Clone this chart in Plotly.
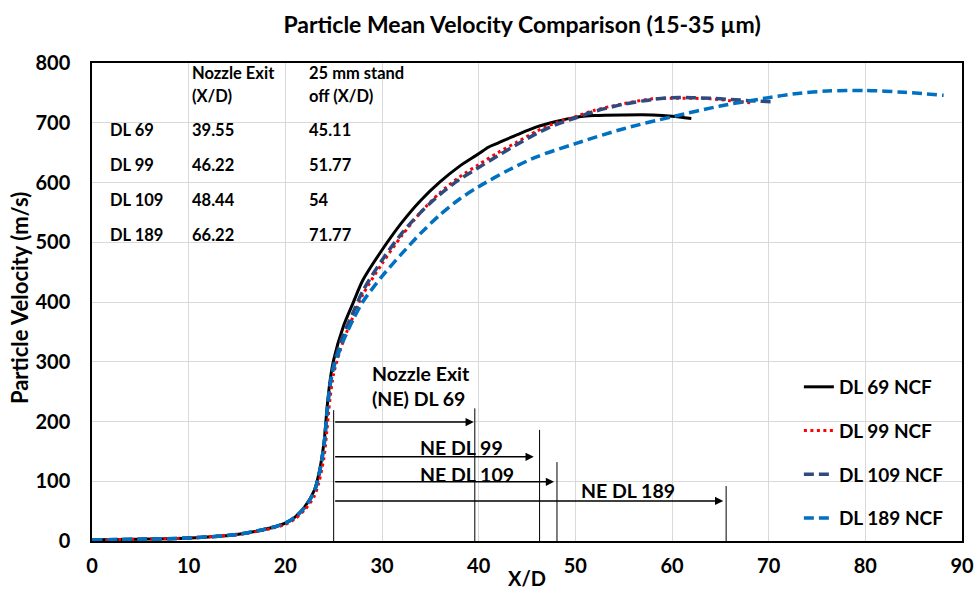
import plotly.graph_objects as go

FONT = "Lato"

# ---- data ----
x_dl69 = [0, 5, 10, 15, 18, 20, 21, 22, 23, 23.5, 24, 24.3, 24.6, 25, 26, 27, 28, 30, 32, 34, 36, 38, 40, 41, 42, 44, 46, 48, 50, 52, 55, 58, 60, 62]
v_dl69 = [2, 3, 5, 11, 20, 30, 40, 57, 85, 115, 165, 220, 265, 303, 359, 398, 436, 487, 532, 570, 601, 627, 648, 659, 666, 680, 693, 702, 709, 712, 713, 713, 711, 707]

x_dl99 = [0, 5, 10, 15, 18, 20, 21, 22, 23, 23.5, 24, 24.3, 24.6, 25, 26, 27, 28, 30, 32, 34, 36, 38, 40, 42, 44, 46, 48, 50, 52, 55, 58, 60, 62, 64, 66, 68.4]
v_dl99 = [2, 3, 5, 11, 19, 28, 37, 52, 75, 100, 140, 185, 235, 280, 335, 375, 412, 464, 510, 550, 583, 609, 630, 650, 668, 686, 700, 710, 721, 732, 740, 741, 741, 740, 737, 733]

x_dl109 = [0, 5, 10, 15, 18, 20, 21, 22, 23, 23.5, 24, 24.3, 24.6, 25, 26, 27, 28, 30, 32, 34, 36, 38, 40, 42, 44, 46, 48, 50, 52, 55, 58, 60, 62, 64, 66, 68, 70.7]
v_dl109 = [2, 3, 5, 11, 20, 30, 40, 56, 83, 112, 160, 212, 258, 295, 345, 382, 418, 470, 514, 550, 580, 605, 625, 645, 664, 682, 697, 708, 719, 731, 739, 742, 742, 741, 739, 737, 735]

x_dl189 = [0, 5, 10, 15, 18, 20, 21, 22, 23, 23.5, 24, 24.3, 24.6, 25, 26, 27, 28, 30, 32, 34, 36, 38, 40, 43, 46, 50, 55, 60, 65, 70, 73, 76, 80, 84, 88.1]
v_dl189 = [2, 3, 5, 11, 20, 30, 40, 56, 83, 112, 160, 212, 258, 290, 335, 370, 400, 443, 480, 515, 546, 572, 593, 620, 643, 665, 690, 710, 728, 742, 749, 753, 754, 751, 746]

series_names = ["DL 69 NCF", "DL 99 NCF", "DL 109 NCF", "DL 189 NCF"]

# table in the chart
table_header_ne = ["Nozzle Exit", "(X/D)"]
table_header_so = ["25 mm stand", "off (X/D)"]
table_rows = ["DL 69", "DL 99", "DL 109", "DL 189"]
table_ne = ["39.55", "46.22", "48.44", "66.22"]
table_so = ["45.11", "51.77", "54", "71.77"]

# nozzle-exit markers
ne_start = 25
ne_start_top = 219
ne_line_x = [39.6, 46.3, 48.1, 65.6]
ne_line_top = [222, 186, 132, 92]
ne_arrow_end = [39.5, 45.7, 47.8, 65.3]
ne_arrow_y = [199, 141, 99, 67]
ne_labels = ["Nozzle Exit<br>(NE) DL 69", "NE DL 99", "NE DL 109", "NE DL 189"]
ne_label_x = [28.8, 33.7, 33.7, 50.4]
ne_label_y = [259, 157, 112, 85]

x_ticks = [0, 10, 20, 30, 40, 50, 60, 70, 80, 90]
y_ticks = [0, 100, 200, 300, 400, 500, 600, 700, 800]

fig = go.Figure()

styles = [
    dict(color="#000000", width=3, dash="solid"),
    dict(color="#FF0000", width=3, dash="3px,3.5px"),
    dict(color="#2E4A7E", width=3.5, dash="10px,5px"),
    dict(color="#0070C0", width=3.5, dash="10px,5px"),
]
for i, (xs, vs) in enumerate([(x_dl69, v_dl69), (x_dl99, v_dl99), (x_dl109, v_dl109), (x_dl189, v_dl189)]):
    fig.add_trace(go.Scatter(x=xs, y=vs, mode="lines", name=series_names[i],
                             line=dict(shape="spline", smoothing=0.8, **styles[i]),
                             legendgroup=f"g{i}"))

annots = []
shapes = []
bold = dict(family=FONT, size=16.5, color="#000000", weight="bold")

# table text
for line_txt_ne, line_txt_so, yy in zip(table_header_ne, table_header_so, [783, 744]):
    annots.append(dict(x=10.14, y=yy, text=line_txt_ne, xanchor="left", yanchor="middle", showarrow=False, font=bold))
    annots.append(dict(x=22.26, y=yy, text=line_txt_so, xanchor="left", yanchor="middle", showarrow=False, font=bold))
row_y = [688, 629, 570, 512]
for r, ne, so, yy in zip(table_rows, table_ne, table_so, row_y):
    annots.append(dict(x=1.66, y=yy, text=r, xanchor="left", yanchor="middle", showarrow=False, font=bold))
    annots.append(dict(x=10.14, y=yy, text=ne, xanchor="left", yanchor="middle", showarrow=False, font=bold))
    annots.append(dict(x=22.26, y=yy, text=so, xanchor="left", yanchor="middle", showarrow=False, font=bold))

# nozzle exit markers
shapes.append(dict(type="line", x0=ne_start, x1=ne_start, y0=0, y1=ne_start_top, line=dict(color="#000000", width=1)))
for lx, lt, ae, ay in zip(ne_line_x, ne_line_top, ne_arrow_end, ne_arrow_y):
    shapes.append(dict(type="line", x0=lx, x1=lx, y0=0, y1=lt, line=dict(color="#000000", width=1)))
    annots.append(dict(x=ae, y=ay, ax=ne_start, ay=ay, axref="x", ayref="y", xref="x", yref="y",
                       text="", showarrow=True, arrowhead=2, arrowsize=1.1, arrowwidth=1.5, arrowcolor="#000000", standoff=0))
for t, tx, ty in zip(ne_labels, ne_label_x, ne_label_y):
    annots.append(dict(x=tx, y=ty, text=t, xanchor="left", yanchor="middle", align="left", showarrow=False,
                       font=dict(family=FONT, size=19.5, color="#000000", weight="bold")))

# axis titles
annots.append(dict(xref="paper", yref="paper", x=-0.084, y=0.508, text="Particle Velocity (m/s)", textangle=-90,
                   showarrow=False, xanchor="center", yanchor="middle", font=dict(family=FONT, size=22, color="#000000", weight="bold")))
annots.append(dict(xref="paper", yref="paper", x=0.5, y=-0.0767, text="X/D",
                   showarrow=False, xanchor="center", yanchor="middle", font=dict(family=FONT, size=20, color="#000000", weight="bold")))

fig.update_layout(
    width=974, height=589,
    margin=dict(l=92, r=12, t=63, b=48, autoexpand=False),
    paper_bgcolor="white", plot_bgcolor="white",
    title=dict(text="Particle Mean Velocity Comparison (15-35 µm)", x=0.536, xanchor="center", y=0.9576, yanchor="middle",
               xref="container", yref="container",
               font=dict(family=FONT, size=23, color="#000000", weight="bold")),
    font=dict(family=FONT, color="#000000"),
    showlegend=True,
    legend=dict(x=0.8125, y=0.362, xanchor="left", yanchor="top", bgcolor="rgba(0,0,0,0)",
                font=dict(family=FONT, size=19, color="#000000", weight="bold"), tracegroupgap=16),
    annotations=annots,
    shapes=shapes,
)
fig.update_xaxes(range=[0, 90], tickvals=x_ticks, showgrid=True, gridcolor="#D9D9D9", gridwidth=1,
                 showline=True, linecolor="#000000", linewidth=1.5, mirror=True, zeroline=False,
                 ticks="outside", ticklen=6, tickcolor="rgba(0,0,0,0)",
                 tickfont=dict(family=FONT, size=20, color="#000000", weight="bold"))
fig.update_yaxes(range=[0, 800], tickvals=y_ticks, showgrid=True, gridcolor="#D9D9D9", gridwidth=1,
                 showline=True, linecolor="#000000", linewidth=1.5, mirror=True, zeroline=False,
                 ticks="outside", ticklen=16, tickcolor="rgba(0,0,0,0)",
                 tickfont=dict(family=FONT, size=20, color="#000000", weight="bold"))

# remove the browser's default 8px body margin so the 974x589 figure fills the window exactly
fig.write_html("out.html", config={"displayModeBar": False},
               post_script="document.body.style.margin='0';document.body.style.overflow='hidden';")
